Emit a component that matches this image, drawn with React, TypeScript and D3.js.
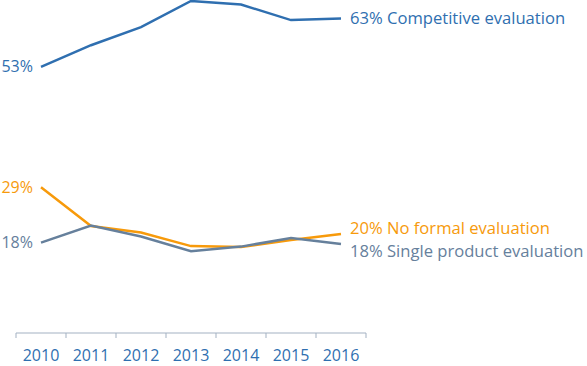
import React, { useEffect, useRef } from "react";
import * as d3 from "d3";

const years = ["2010", "2011", "2012", "2013", "2014", "2015", "2016"];
const competitive = [53, 57.3, 60.9, 66.1, 65.4, 62.3, 62.6];
const noFormal = [29, 21.3, 20.0, 17.3, 17.1, 18.5, 19.7];
const singleProduct = [18, 21.4, 19.2, 16.3, 17.2, 18.9, 17.7];

const seriesNames = ["Competitive evaluation", "No formal evaluation", "Single product evaluation"];
const seriesColors = ["#2f6fb0", "#f79a0b", "#66809c"];

const App = () => {
  const svgRef = useRef<SVGSVGElement>(null);

  useEffect(() => {
    const width = 587;
    const height = 366;
    const svg = d3.select(svgRef.current);
    svg.selectAll("*").remove();
    svg.attr("width", width).attr("height", height);

    const x = d3.scaleBand().domain(years).range([16, 366]);
    const y = d3.scaleLinear().domain([0, 66.1]).range([333, 1]);
    const cx = (d: string) => (x(d) as number) + x.bandwidth() / 2;

    const font = "'Open Sans', sans-serif";

    // Axis
    const axis = svg.append("g").attr("transform", "translate(0,333)");
    axis.append("line")
      .attr("x1", 16).attr("x2", 366)
      .attr("stroke", "#a3b1c2").attr("stroke-width", 1);
    const edges = years.map((d) => x(d) as number).concat([366]);
    axis.selectAll("line.tick")
      .data(edges)
      .enter()
      .append("line")
      .attr("class", "tick")
      .attr("x1", (d) => d).attr("x2", (d) => d)
      .attr("y1", 0).attr("y2", 5)
      .attr("stroke", "#a3b1c2");
    axis.selectAll("text")
      .data(years)
      .enter()
      .append("text")
      .attr("x", (d) => cx(d))
      .attr("y", 22)
      .attr("dy", "0.35em")
      .attr("text-anchor", "middle")
      .style("font-family", font)
      .style("font-size", "16px")
      .style("fill", "#2f6fb0")
      .text((d) => d);

    const line = d3.line<number>()
      .x((d, i) => cx(years[i]))
      .y((d) => y(d));

    const all = [competitive, noFormal, singleProduct];
    // label vertical nudges so the end labels don't collide
    const endOffsets = [0, -6, 7];

    all.forEach((vals, i) => {
      svg.append("path")
        .attr("d", line(vals))
        .attr("fill", "none")
        .attr("stroke", seriesColors[i])
        .attr("stroke-width", 2.5);

      svg.append("text")
        .attr("x", 33)
        .attr("y", y(vals[0]))
        .attr("dy", "0.35em")
        .attr("text-anchor", "end")
        .style("font-family", font)
        .style("font-size", "16px")
        .style("fill", seriesColors[i])
        .text(`${Math.round(vals[0])}%`);

      const last = vals[vals.length - 1];
      svg.append("text")
        .attr("x", 350)
        .attr("y", y(last) + endOffsets[i])
        .attr("dy", "0.35em")
        .style("font-family", font)
        .style("font-size", "16.6px")
        .style("fill", seriesColors[i])
        .text(`${Math.round(last)}% ${seriesNames[i]}`);
    });
  }, []);

  return <svg ref={svgRef} style={{ position: "absolute", left: 0, top: 0 }}></svg>;
};

export default App;
